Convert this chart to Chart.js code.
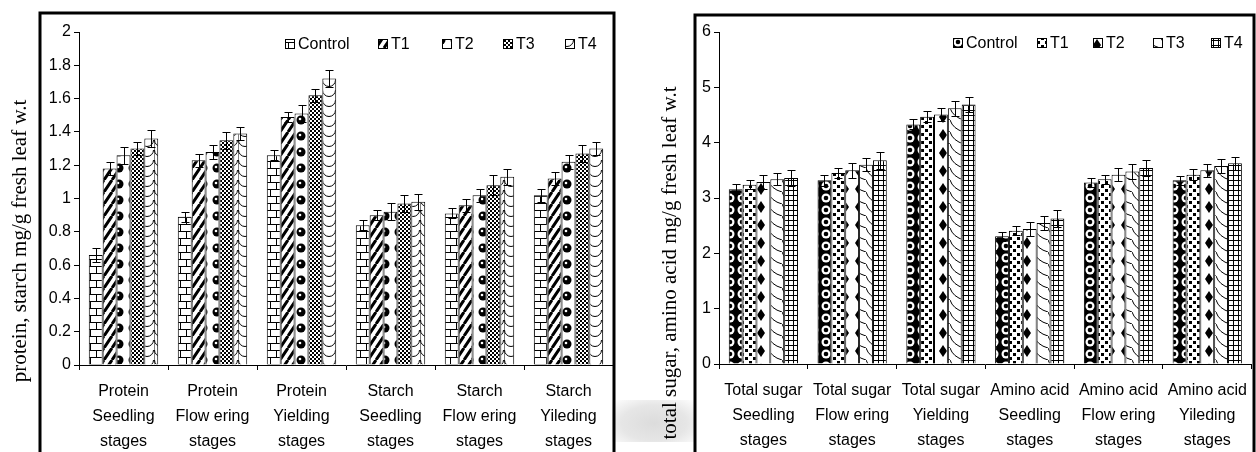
<!DOCTYPE html>
<html>
<head>
<meta charset="utf-8">
<script src="https://cdn.jsdelivr.net/npm/chart.js@4.4.0/dist/chart.umd.min.js"></script>
<style>
  html, body { margin: 0; padding: 0; background: #fff; }
  body { width: 1256px; height: 452px; position: relative; overflow: hidden; }
  .box { position: absolute; top: 0; width: 628px; height: 452px; }
  #left { left: 0; }
  #right { left: 628px; }
  /* faint scan smudge between the panels */
  #smudge { position: absolute; left: 612px; top: 400px; width: 84px; height: 42px;
            background: radial-gradient(ellipse at 50% 55%, #dcdcdc 0%, #e6e6e6 55%, rgba(255,255,255,0) 100%); }
</style>
</head>
<body>
<div id="smudge"></div>
<div class="box" id="left"><canvas id="leftChart"></canvas></div>
<div class="box" id="right"><canvas id="rightChart"></canvas></div>
<script>
// ---- data ----
const seriesNames = ['Control', 'T1', 'T2', 'T3', 'T4'];

const leftCategories = [
    ['Protein', 'Seedling', 'stages'],
    ['Protein', 'Flow ering', 'stages'],
    ['Protein', 'Yielding', 'stages'],
    ['Starch', 'Seedling', 'stages'],
    ['Starch', 'Flow ering', 'stages'],
    ['Starch', 'Yileding', 'stages']
];
const leftControl = [0.66, 0.89, 1.26, 0.84, 0.91, 1.02];
const leftT1 = [1.18, 1.23, 1.49, 0.90, 0.96, 1.12];
const leftT2 = [1.26, 1.28, 1.51, 0.92, 1.02, 1.22];
const leftT3 = [1.30, 1.35, 1.62, 0.97, 1.08, 1.27];
const leftT4 = [1.36, 1.39, 1.72, 0.98, 1.13, 1.30];
const leftControlErr = [0.04, 0.03, 0.03, 0.03, 0.03, 0.04];
const leftT1Err = [0.04, 0.04, 0.03, 0.03, 0.04, 0.04];
const leftT2Err = [0.05, 0.04, 0.05, 0.05, 0.04, 0.04];
const leftT3Err = [0.04, 0.05, 0.04, 0.05, 0.06, 0.05];
const leftT4Err = [0.05, 0.04, 0.05, 0.05, 0.05, 0.04];
const leftTicks = { min: 0, max: 2, step: 0.2 };

const rightCategories = [
    ['Total sugar', 'Seedling', 'stages'],
    ['Total sugar', 'Flow ering', 'stages'],
    ['Total sugar', 'Yielding', 'stages'],
    ['Amino acid', 'Seedling', 'stages'],
    ['Amino acid', 'Flow ering', 'stages'],
    ['Amino acid', 'Yileding', 'stages']
];
const rightControl = [3.16, 3.32, 4.33, 2.31, 3.28, 3.32];
const rightT1 = [3.24, 3.45, 4.47, 2.41, 3.34, 3.42];
const rightT2 = [3.29, 3.50, 4.51, 2.44, 3.42, 3.50];
const rightT3 = [3.34, 3.60, 4.62, 2.55, 3.48, 3.58];
const rightT4 = [3.36, 3.68, 4.69, 2.63, 3.54, 3.63];
const rightControlErr = [0.09, 0.10, 0.09, 0.08, 0.08, 0.08];
const rightT1Err = [0.08, 0.09, 0.10, 0.08, 0.08, 0.10];
const rightT2Err = [0.13, 0.13, 0.12, 0.12, 0.12, 0.12];
const rightT3Err = [0.11, 0.12, 0.13, 0.12, 0.13, 0.12];
const rightT4Err = [0.15, 0.15, 0.14, 0.15, 0.15, 0.12];
const rightTicks = { min: 0, max: 6, step: 1 };

// ---- hatch patterns ----
const makePattern = (w, h, draw) => {
    const c = document.createElement('canvas');
    c.width = w;
    c.height = h;
    const g = c.getContext('2d');
    g.fillStyle = '#fff';
    g.fillRect(0, 0, w, h);
    g.fillStyle = '#000';
    g.strokeStyle = '#000';
    g.lineWidth = 1;
    draw(g, w, h);
    return g.createPattern(c, 'repeat');
};

const brick = makePattern(12, 14, g => {
    g.beginPath();
    g.moveTo(0, 0.5); g.lineTo(12, 0.5);
    g.moveTo(0, 7.5); g.lineTo(12, 7.5);
    g.moveTo(0.5, 0); g.lineTo(0.5, 7);
    g.moveTo(6.5, 7); g.lineTo(6.5, 14);
    g.stroke();
});
const thickDiagonal = makePattern(8, 12, (g, w, h) => {
    g.lineWidth = 3;
    g.beginPath();
    for (let k = -1; k <= 1; k++) {
        g.moveTo(k * w, h);
        g.lineTo(k * w + w, 0);
    }
    g.stroke();
});
const spheres = makePattern(14, 16, g => {
    g.beginPath();
    g.arc(7, 8, 4.5, 0, Math.PI * 2);
    g.fill();
    g.fillStyle = '#fff';
    g.beginPath();
    g.arc(6, 7, 1.3, 0, Math.PI * 2);
    g.fill();
});
const checker = makePattern(4, 4, g => {
    g.fillRect(0, 0, 2, 2);
    g.fillRect(2, 2, 2, 2);
});
const scales = makePattern(14, 10, g => {
    g.beginPath();
    g.arc(7, 0, 6.5, 0, Math.PI);
    g.stroke();
    g.beginPath();
    g.moveTo(0, 0); g.lineTo(0, 10);
    g.stroke();
});

const darkRings = makePattern(12, 12, g => {
    g.fillRect(0, 0, 12, 12);
    g.fillStyle = '#fff';
    g.beginPath();
    g.arc(6, 6, 4.5, 0, Math.PI * 2);
    g.fill();
    g.fillStyle = '#000';
    g.beginPath();
    g.arc(6, 6, 2.3, 0, Math.PI * 2);
    g.fill();
});
const bigDots = makePattern(8, 8, g => {
    g.fillRect(1, 1, 3, 3);
    g.fillRect(5, 5, 3, 3);
});
const diamonds = makePattern(14, 18, g => {
    g.beginPath();
    g.moveTo(7, 3); g.lineTo(11, 9); g.lineTo(7, 15); g.lineTo(3, 9);
    g.closePath();
    g.fill();
});
const waves = makePattern(14, 12, g => {
    g.beginPath();
    g.moveTo(0, 0);
    g.quadraticCurveTo(3, 9, 14, 12);
    g.stroke();
});
const grid = makePattern(5, 5, g => {
    g.fillRect(0, 0, 5, 1);
    g.fillRect(0, 0, 1, 5);
});

// ---- plugins ----
const errorBars = {
    id: 'errorBars',
    afterDatasetsDraw(chart) {
        const { ctx } = chart;
        const yScale = chart.scales.y;
        ctx.save();
        ctx.strokeStyle = '#000';
        ctx.lineWidth = 1;
        chart.data.datasets.forEach((ds, i) => {
            const meta = chart.getDatasetMeta(i);
            meta.data.forEach((bar, j) => {
                const v = ds.data[j];
                const e = ds.errors[j];
                const x = Math.round(bar.x) + 0.5;
                const top = Math.round(yScale.getPixelForValue(v + e)) + 0.5;
                const bot = Math.round(yScale.getPixelForValue(v - e)) + 0.5;
                ctx.beginPath();
                ctx.moveTo(x, top); ctx.lineTo(x, bot);
                ctx.moveTo(x - 4, top); ctx.lineTo(x + 4, top);
                ctx.moveTo(x - 4, bot); ctx.lineTo(x + 4, bot);
                ctx.stroke();
            });
        });
        ctx.restore();
    }
};

const decorations = {
    id: 'decorations',
    afterDraw(chart, args, opts) {
        const { ctx } = chart;
        ctx.save();
        // frame
        ctx.strokeStyle = '#000';
        ctx.lineWidth = 3;
        ctx.strokeRect(opts.frame.left, opts.frame.top, opts.frame.right - opts.frame.left, 500);
        // rotated axis title
        ctx.fillStyle = '#000';
        ctx.font = '21px "Liberation Serif"';
        ctx.textAlign = 'center';
        ctx.textBaseline = 'middle';
        ctx.translate(opts.title.x, opts.title.y);
        ctx.rotate(-Math.PI / 2);
        ctx.fillText(opts.title.text, 0, 0);
        ctx.restore();

        // legend
        ctx.save();
        ctx.font = '16px "Liberation Sans"';
        ctx.textBaseline = 'middle';
        ctx.textAlign = 'left';
        chart.data.datasets.forEach((ds, i) => {
            const x = opts.legend.x[i];
            const y = opts.legend.y;
            ctx.fillStyle = ds.backgroundColor;
            ctx.fillRect(x - 4, y - 4, 8, 8);
            ctx.strokeStyle = '#000';
            ctx.lineWidth = 1;
            ctx.strokeRect(x - 4.5, y - 4.5, 9, 9);
            ctx.fillStyle = '#000';
            ctx.fillText(ds.label, x + 8, y + 1);
        });
        ctx.restore();
    }
};

const buildDatasets = (series, errors, patterns) => series.map((data, i) => ({
    label: seriesNames[i],
    data: data,
    errors: errors[i],
    backgroundColor: patterns[i],
    borderColor: '#000',
    borderWidth: 1,
    categoryPercentage: 0.78,
    barPercentage: 1
}));

const axisFont = { family: 'Liberation Sans', size: 16 };

const makeOptions = (ticks, pad, xHeight, deco) => ({
    responsive: true,
    maintainAspectRatio: false,
    animation: false,
    layout: { padding: pad },
    plugins: {
        legend: { display: false },
        tooltip: { enabled: false },
        decorations: deco
    },
    scales: {
        x: {
            grid: { display: true, drawOnChartArea: false, tickLength: 5, color: '#000', offset: true },
            border: { display: true, color: '#000', width: 1 },
            ticks: {
                color: '#000',
                font: { ...axisFont, lineHeight: 1.56 },
                padding: 9,
                maxRotation: 0,
                autoSkip: false
            },
            afterFit: s => { s.height = xHeight; }
        },
        y: {
            min: ticks.min,
            max: ticks.max,
            grid: { display: true, drawOnChartArea: false, tickLength: 5, color: '#000' },
            border: { display: true, color: '#000', width: 1 },
            ticks: {
                stepSize: ticks.step,
                color: '#000',
                font: axisFont,
                padding: 3,
                callback: v => String(Number(v.toFixed(1)))
            },
            afterFit: s => { s.width = 40; }
        }
    }
});

// ---- left chart ----
new Chart(document.getElementById('leftChart'), {
    type: 'bar',
    data: {
        labels: leftCategories,
        datasets: buildDatasets(
            [leftControl, leftT1, leftT2, leftT3, leftT4],
            [leftControlErr, leftT1Err, leftT2Err, leftT3Err, leftT4Err],
            [brick, thickDiagonal, spheres, checker, scales]
        )
    },
    options: makeOptions(leftTicks, { left: 39, right: 15, top: 32, bottom: 0 }, 87, {
        frame: { left: 40, top: 13, right: 614 },
        title: { x: 20, y: 241, text: 'protein, starch mg/g fresh leaf w.t' },
        legend: { x: [290, 383, 447, 508, 570], y: 44 }
    }),
    plugins: [errorBars, decorations]
});

// ---- right chart ----
new Chart(document.getElementById('rightChart'), {
    type: 'bar',
    data: {
        labels: rightCategories,
        datasets: buildDatasets(
            [rightControl, rightT1, rightT2, rightT3, rightT4],
            [rightControlErr, rightT1Err, rightT2Err, rightT3Err, rightT4Err],
            [darkRings, bigDots, diamonds, waves, grid]
        )
    },
    options: makeOptions(rightTicks, { left: 51, right: 2, top: 32, bottom: 0 }, 88, {
        frame: { left: 67, top: 15, right: 626 },
        title: { x: 42, y: 263, text: 'total sugar, amino acid mg/g fresh leaf w.t' },
        legend: { x: [330, 414, 470, 530, 588], y: 43 }
    }),
    plugins: [errorBars, decorations]
});
</script>
</body>
</html>
